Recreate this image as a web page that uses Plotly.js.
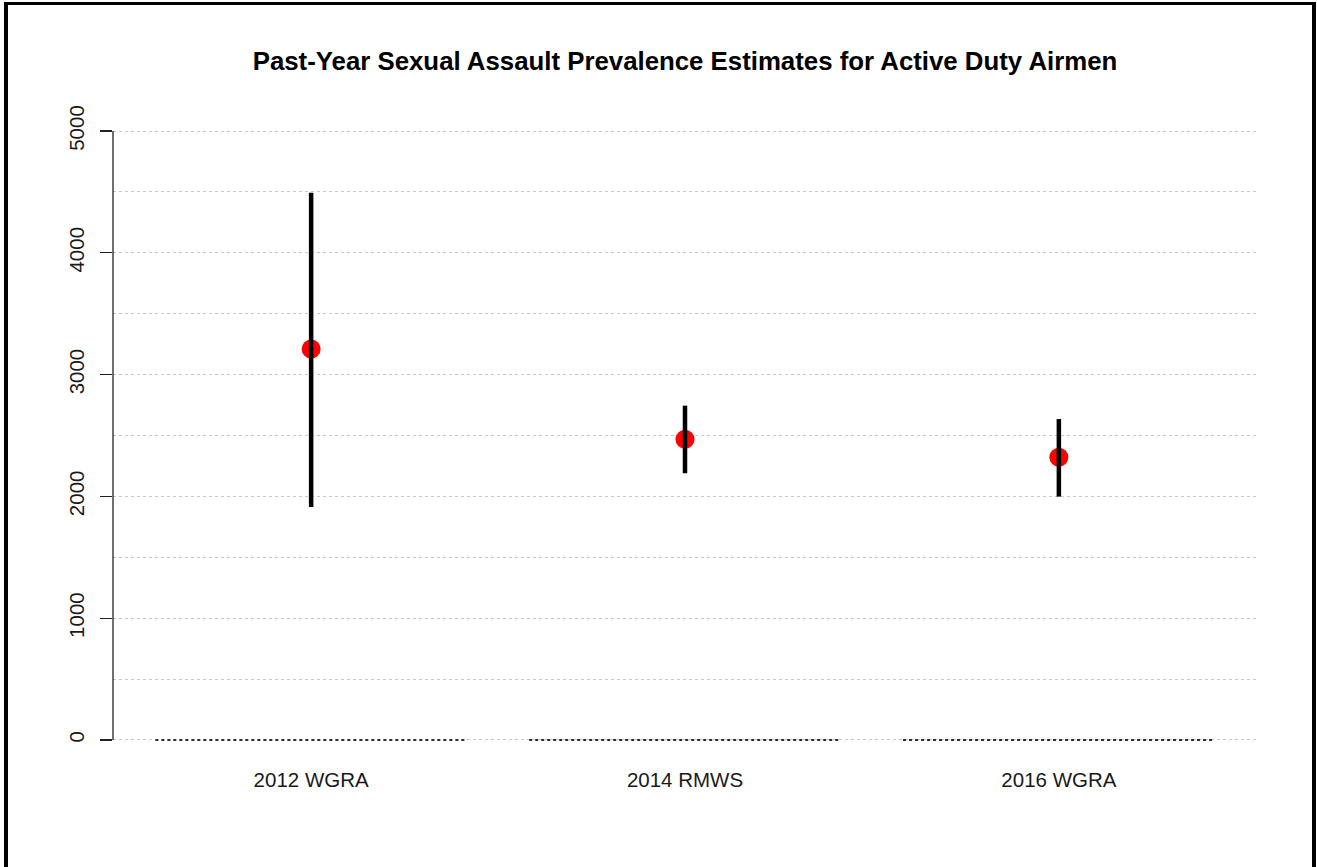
<!DOCTYPE html>
<html>
<head>
<meta charset="utf-8">
<script src="https://cdn.plot.ly/plotly-3.0.1.min.js"></script>
<style>
  html, body { margin: 0; padding: 0; background: #fff; overflow: hidden; }
  #chart { position: absolute; left: 0; top: 0; width: 1317px; height: 867px; }
  #frame { position: absolute; left: 4px; top: 2px; width: 1304px; height: 900px;
           border-left: 4px solid #000; border-top: 3px solid #000; border-right: 4px solid #000;
           pointer-events: none; }
</style>
</head>
<body>
<div id="chart"></div>
<div id="frame"></div>
<script>
// ---- data ----
var categories = ["2012 WGRA", "2014 RMWS", "2016 WGRA"];
var estimates  = [3210, 2469, 2321];
var upperCI    = [4493, 2745, 2635];
var lowerCI    = [1913, 2190, 1998];
var barHeights = [0, 0, 0];
var yTickVals  = [0, 1000, 2000, 3000, 4000, 5000];

// barplot-style positions (bar width 1, space 0.2)
var barWidth = 1, barSpace = 0.2;
var centers = categories.map(function (c, i) { return barSpace + barWidth / 2 + i * (barWidth + barSpace); });
var xMin = barSpace, xMax = centers[centers.length - 1] + barWidth / 2;
var ext = (xMax - xMin) * 0.04;

// zero-height bars drawn as their outline at the baseline
var barX = [], barY = [];
centers.forEach(function (c, i) {
  barX.push(c - barWidth / 2, c + barWidth / 2, null);
  barY.push(barHeights[i], barHeights[i], null);
});

var font = "Liberation Sans, Arial, sans-serif";

var traces = [
  {
    x: barX, y: barY, type: "scatter", mode: "lines",
    line: { color: "#2e2e2e", width: 2, dash: "dot" },
    hoverinfo: "skip", showlegend: false
  },
  {
    x: centers, y: estimates, type: "scatter", mode: "markers",
    marker: { color: "#ff0000", size: 19 },
    showlegend: false
  },
  {
    x: centers, y: estimates, type: "scatter", mode: "markers",
    marker: { color: "rgba(0,0,0,0)", size: 1 },
    error_y: {
      type: "data", symmetric: false,
      array: upperCI.map(function (u, i) { return u - estimates[i]; }),
      arrayminus: lowerCI.map(function (l, i) { return estimates[i] - l; }),
      color: "#000", thickness: 4.5, width: 0
    },
    showlegend: false
  }
];

var layout = {
  width: 1317, height: 867,
  margin: { l: 113, r: 60, t: 128, b: 124, pad: 0 },
  paper_bgcolor: "#fff", plot_bgcolor: "#fff",
  showlegend: false,
  title: {
    text: "<b>Past-Year Sexual Assault Prevalence Estimates for Active Duty Airmen</b>",
    font: { family: font, size: 25.8, color: "#000" },
    x: 0.5, xref: "paper", xanchor: "center",
    y: 0.93, yref: "container", yanchor: "middle"
  },
  xaxis: {
    range: [xMin - ext, xMax + ext],
    tickmode: "array", tickvals: centers, ticktext: categories,
    showgrid: false, zeroline: false, showline: false, ticks: "",
    tickfont: { family: font, size: 20.5, color: "#1a1a1a" },
    ticklabelstandoff: 22
  },
  yaxis: {
    range: [-25, 5025],
    tickmode: "array", tickvals: yTickVals, ticktext: yTickVals.map(String),
    tickangle: -90,
    showline: false,
    ticks: "outside", ticklen: 12, tickcolor: "#222", tickwidth: 1.3,
    tickfont: { family: font, size: 20.5, color: "#1a1a1a" },
    ticklabelstandoff: 8,
    zeroline: false,
    showgrid: true, gridcolor: "#c8c8c8", gridwidth: 1, griddash: "dot",
    minor: { dtick: 500, tick0: 0, showgrid: true, gridcolor: "#c8c8c8", gridwidth: 1, griddash: "dot", ticks: "" }
  },
  shapes: [
    // y-axis line spanning only the tick range, as in base-R axis()
    { type: "line", xref: "paper", yref: "y", x0: 0, x1: 0,
      y0: yTickVals[0], y1: yTickVals[yTickVals.length - 1],
      line: { color: "#222", width: 1.3 }, layer: "above" }
  ]
};

Plotly.newPlot("chart", traces, layout, { staticPlot: true, displayModeBar: false });
</script>
</body>
</html>
